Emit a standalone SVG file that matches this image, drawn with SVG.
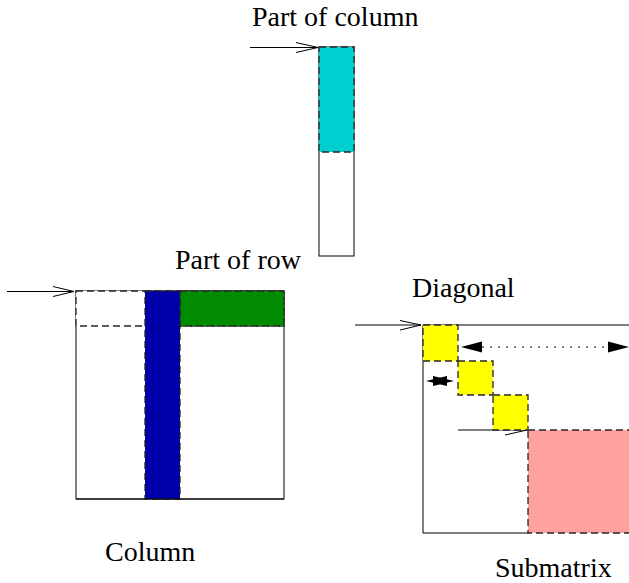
<svg xmlns="http://www.w3.org/2000/svg" width="629" height="583" viewBox="0 0 629 583">
  <style>
    .lbl { font-size: 28px; fill: #000; }
    .solid { fill: none; stroke: #000; stroke-width: 1; }
    .dash { stroke: #262626; stroke-width: 1.3; stroke-dasharray: 7 4; }
    .open { fill: none; stroke: #000; stroke-width: 1; }
    .fillhead { fill: #000; stroke: none; }
  </style>
  <rect width="629" height="583" fill="#fff"/>

  <!-- part of column -->
  <g id="part-of-column">
    <rect x="319" y="47" width="35" height="209" class="solid"/>
    <rect x="319" y="47" width="35" height="105" fill="#00cfd1" class="dash"/>
    <text class="lbl" font-family="Liberation Serif, Times New Roman, serif" x="252" y="26">Part of column</text>
  </g>

  <!-- full matrix with column and row part -->
  <g id="column-matrix">
    <rect x="76" y="291" width="208" height="208" class="solid"/>
    <rect x="76" y="291" width="208" height="35" fill="#fff" class="dash"/>
    <rect x="180" y="291" width="104" height="35" fill="#008b00" class="dash"/>
    <rect x="145" y="291" width="35" height="208" fill="#0000aa" class="dash"/>
    <line x1="76" y1="499" x2="284" y2="499" class="solid"/>
    <text class="lbl" font-family="Liberation Serif, Times New Roman, serif" x="175" y="269">Part of row</text>
    <text class="lbl" font-family="Liberation Serif, Times New Roman, serif" x="105" y="561">Column</text>
  </g>

  <!-- diagonal blocks and trailing submatrix -->
  <g id="diagonal-matrix">
    <line x1="423" y1="325" x2="629" y2="325" class="solid"/>
    <line x1="423" y1="325" x2="423" y2="533" class="solid"/>
    <line x1="423" y1="533" x2="528" y2="533" class="solid"/>
    <rect x="528" y="430" width="110" height="103" fill="#ffa1a1" class="dash"/>
    <text class="lbl" font-family="Liberation Serif, Times New Roman, serif" x="412" y="297">Diagonal</text>
    <text class="lbl" font-family="Liberation Serif, Times New Roman, serif" x="495" y="577">Submatrix</text>
  </g>

  <g id="connectors">
    <!-- entry arrows -->
    <line x1="250" y1="47.5" x2="318" y2="47.5" class="open"/>
    <polyline points="296,42.5 318,47.5 296,52.5" class="open"/>
    <line x1="7" y1="291.5" x2="74" y2="291.5" class="open"/>
    <polyline points="53,286.5 74,291.5 53,296.5" class="open"/>
    <line x1="355" y1="325" x2="421" y2="325" class="open"/>
    <polyline points="400,320.5 421,325 400,330" class="open"/>
    <line x1="458" y1="430" x2="527" y2="430" class="open"/>
    <polyline points="505,425 527,430 505,435" class="open"/>
    <!-- dotted span arrow -->
    <line x1="482" y1="347" x2="608" y2="347" stroke="#000" stroke-width="1.2" stroke-dasharray="2 6"/>
    <polygon points="461,347 482,341.5 482,352.5" class="fillhead"/>
    <polygon points="629,347 608,341.5 608,352.5" class="fillhead"/>
    <!-- short double arrow -->
    <polygon points="426,381 447,376 447,386" class="fillhead"/>
    <polygon points="454,381 433,376 433,386" class="fillhead"/>
  </g>

  <g id="diagonal-blocks">
    <rect x="423" y="325" width="35" height="36" fill="#ffff00" class="dash"/>
    <rect x="458" y="361" width="35" height="34" fill="#ffff00" class="dash"/>
    <rect x="493" y="395" width="35" height="35" fill="#ffff00" class="dash"/>
  </g>
</svg>
